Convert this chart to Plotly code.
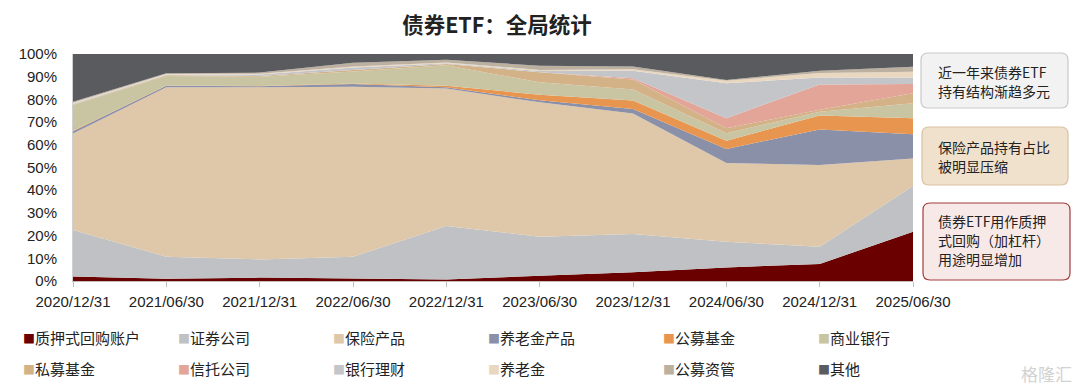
import plotly.graph_objects as go

# ---------------- data (percent of holdings) ----------------
dates = ["2020/12/31", "2021/06/30", "2021/12/31", "2022/06/30", "2022/12/31",
         "2023/06/30", "2023/12/31", "2024/06/30", "2024/12/31", "2025/06/30"]

repo_accounts    = [2.0, 1.0, 1.5, 1.0, 0.7, 2.3, 3.8, 6.0, 7.5, 21.7]
securities_firms = [20.5, 9.7, 8.0, 9.7, 23.5, 17.2, 16.9, 11.3, 7.6, 20.2]
insurance_prods  = [42.5, 74.6, 75.8, 74.9, 60.6, 59.2, 53.1, 34.7, 36.0, 12.1]
pension_prods    = [1.0, 0.7, 0.5, 1.2, 0.5, 0.9, 2.0, 6.2, 15.6, 10.6]
public_funds     = [0.2, 0.1, 0.1, 0.2, 0.7, 2.5, 3.7, 3.6, 6.2, 7.1]
commercial_banks = [11.3, 4.2, 4.1, 5.3, 9.0, 5.4, 4.9, 3.3, 1.7, 6.6]
private_funds    = [0.3, 0.3, 0.3, 0.5, 0.6, 4.5, 4.4, 2.2, 0.8, 4.4]
trust_companies  = [0.0, 0.0, 0.0, 0.0, 0.0, 0.0, 0.5, 4.4, 11.2, 4.1]
bank_wealth_mgmt = [0.3, 0.3, 0.7, 1.2, 0.3, 0.5, 3.3, 15.4, 3.0, 2.9]
pension_funds    = [0.4, 0.3, 0.3, 0.5, 0.4, 0.5, 0.7, 1.1, 2.0, 2.5]
public_asset_mgmt = [0.5, 0.3, 0.5, 1.7, 1.2, 1.8, 1.2, 0.4, 1.0, 2.2]
others           = [21.0, 8.5, 8.2, 3.8, 2.5, 5.2, 5.5, 11.4, 7.4, 5.6]

series_names = ["质押式回购账户", "证券公司", "保险产品", "养老金产品", "公募基金", "商业银行",
                "私募基金", "信托公司", "银行理财", "养老金", "公募资管", "其他"]
series_values = [repo_accounts, securities_firms, insurance_prods, pension_prods, public_funds,
                 commercial_banks, private_funds, trust_companies, bank_wealth_mgmt,
                 pension_funds, public_asset_mgmt, others]
series_colors = ["#6A0000", "#C0C1C4", "#DFC8AA", "#8A90A8", "#E8964F", "#C9C5A2",
                 "#D3B287", "#E2A597", "#C4C5C9", "#E9D7C0", "#BCB0A0", "#5A5B5E"]

y_ticks = [0, 10, 20, 30, 40, 50, 60, 70, 80, 90, 100]
y_tick_labels = [f"{v}%" for v in y_ticks]

title_text = "债券ETF：全局统计"
box_texts = [["近一年来债券ETF", "持有结构渐趋多元"],
             ["保险产品持有占比", "被明显压缩"],
             ["债券ETF用作质押", "式回购（加杠杆）", "用途明显增加"]]

# ---------------- layout geometry (pixels) ----------------
W, H = 1080, 391
PL, PR, PT, PB = 73, 913, 54, 281
CJK = "Noto Sans CJK SC, Noto Sans, sans-serif"
LAT = "Liberation Sans, Arial, sans-serif"


def px(x):
    return (x - PL) / (PR - PL)


def py(y):
    return (PB - y) / (PB - PT)


fig = go.Figure()

# stacked areas
for name, vals, col in zip(series_names, series_values, series_colors):
    fig.add_trace(go.Scatter(
        x=dates, y=vals, name=name, stackgroup="one", mode="lines",
        line=dict(width=0, color=col), fillcolor=col, showlegend=False,
        hovertemplate="%{x}<br>" + name + ": %{y:.1f}%<extra></extra>"))

# legend entries: coloured square glyph + name, split into four legend blocks
legend_ids = ["legend", "legend", "legend", "legend", "legend2", "legend2",
              "legend3", "legend3", "legend3", "legend3", "legend4", "legend4"]
for name, col, lid in zip(series_names, series_colors, legend_ids):
    label = f"<span style='color:{col};font-size:12px'>■</span>{name}"
    fig.add_trace(go.Scatter(
        x=[None], y=[None], mode="markers", name=label,
        marker=dict(symbol="square", size=1, color="rgba(0,0,0,0)",
                    line=dict(width=0, color="rgba(0,0,0,0)")),
        legend=lid, showlegend=True, hoverinfo="skip"))

legend_common = dict(orientation="h", xref="paper", yref="paper",
                     xanchor="left", yanchor="middle", bgcolor="rgba(0,0,0,0)",
                     font=dict(family=CJK, size=15, color="#222222"),
                     itemwidth=30, entrywidth=110, entrywidthmode="pixels",
                     traceorder="normal")
row1_y, row2_y = py(338), py(369)
left_x, right_x = px(-17), px(623)

fig.update_layout(
    width=W, height=H,
    margin=dict(l=PL, r=W - PR, t=PT, b=H - PB, pad=0, autoexpand=False),
    paper_bgcolor="white", plot_bgcolor="white",
    title=dict(text="<b>" + title_text + "</b>", x=497 / W, xanchor="center",
               y=1 - 25 / H, yanchor="middle", yref="container", xref="container",
               font=dict(family=CJK, size=21.5, color="#222222")),
    xaxis=dict(type="category", range=[0, len(dates) - 1], showgrid=False,
               showline=True, linecolor="#BFBFBF", linewidth=1,
               ticks="outside", ticklen=5, tickcolor="#BFBFBF",
               tickfont=dict(family=LAT, size=15, color="#222222"),
               ticklabelstandoff=2, zeroline=False),
    yaxis=dict(range=[0, 100], tickvals=y_ticks, ticktext=y_tick_labels,
               showgrid=False, showline=True, linecolor="#D0D0D0", linewidth=1,
               ticks="", tickfont=dict(family=LAT, size=15, color="#222222"),
               ticklabelstandoff=12, zeroline=False),
    legend=dict(x=left_x, y=row1_y, **legend_common),
    legend2=dict(x=right_x, y=row1_y, **legend_common),
    legend3=dict(x=left_x, y=row2_y, **legend_common),
    legend4=dict(x=right_x, y=row2_y, **legend_common),
    showlegend=True,
)


def rounded_path(x0, y0, x1, y1, r):
    # pixel coords -> paper coords, rounded corners
    rx = r / (PR - PL)
    ry = r / (PB - PT)
    a, b = px(x0), px(x1)
    top, bot = py(y0), py(y1)
    return (f"M{a + rx},{top} L{b - rx},{top} Q{b},{top} {b},{top - ry} "
            f"L{b},{bot + ry} Q{b},{bot} {b - rx},{bot} "
            f"L{a + rx},{bot} Q{a},{bot} {a},{bot + ry} "
            f"L{a},{top - ry} Q{a},{top} {a + rx},{top} Z")


boxes = [
    dict(x0=921, y0=53, x1=1068, y1=108, fill="#F2F2F2", line="#C9C9C9", lines_y=[72, 91]),
    dict(x0=922, y0=127, x1=1068, y1=185, fill="#F0E1CD", line="#D8C1A3", lines_y=[147, 166]),
    dict(x0=923, y0=203, x1=1070, y1=280, fill="#F8E9E9", line="#A23C3C", lines_y=[221, 240, 259]),
]

for bx, texts in zip(boxes, box_texts):
    fig.add_shape(type="path", xref="paper", yref="paper",
                  path=rounded_path(bx["x0"], bx["y0"], bx["x1"], bx["y1"], 7),
                  fillcolor=bx["fill"], line=dict(color=bx["line"], width=1.2), layer="above")
    for t, ly in zip(texts, bx["lines_y"]):
        fig.add_annotation(text=t, xref="paper", yref="paper", x=px(936), y=py(ly),
                           xanchor="left", yanchor="middle", showarrow=False,
                           font=dict(family=CJK, size=14, color="#222222"))

# watermark
fig.add_annotation(text="格隆汇", xref="paper", yref="paper", x=px(1074), y=py(373),
                   xanchor="right", yanchor="middle", showarrow=False,
                   font=dict(family=CJK, size=17, color="#D2D2D2"))

fig.write_html("out.html", config={"displayModeBar": False},
               post_script="document.body.style.margin='0px';")
